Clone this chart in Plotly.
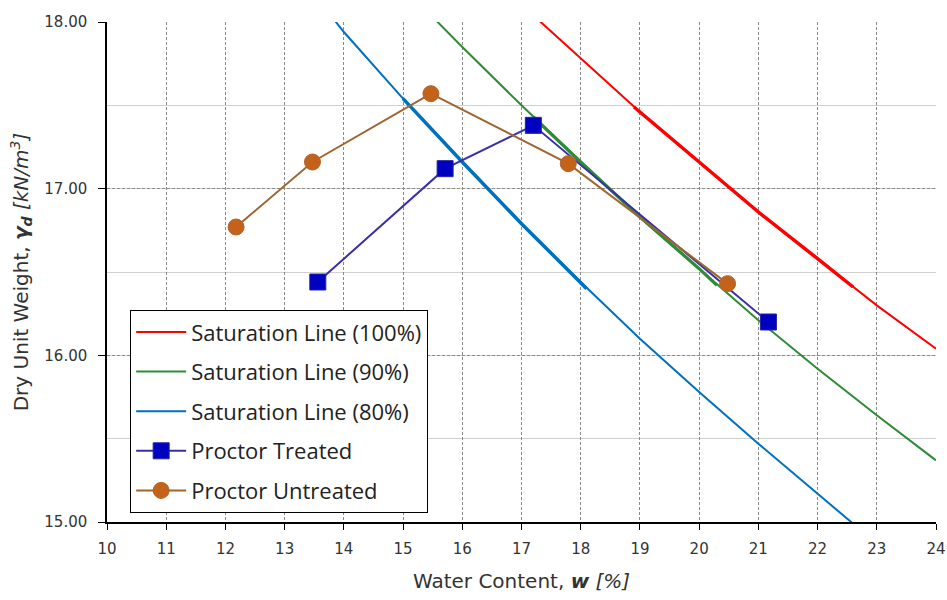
import plotly.graph_objects as go

# Saturation lines
sat100_w = [17.2, 18, 19, 20, 21, 22, 23, 24]
sat100_g = [18.04, 17.78, 17.46, 17.16, 16.86, 16.58, 16.30, 16.04]
sat90_w = [15.5, 16, 17, 18, 19, 20, 21, 22, 23, 24]
sat90_g = [18.03, 17.85, 17.50, 17.16, 16.83, 16.52, 16.21, 15.92, 15.64, 15.37]
sat80_w = [13.8, 14, 15, 16, 17, 18, 19, 20, 21, 22, 22.6]
sat80_g = [18.03, 17.94, 17.54, 17.16, 16.79, 16.44, 16.10, 15.78, 15.47, 15.17, 14.99]

# overlapping (thicker) portions of the saturation lines
sat100_thick_w = [18.9, 19, 20, 21, 22, 22.6]
sat100_thick_g = [17.49, 17.46, 17.16, 16.86, 16.58, 16.41]
sat90_thick_w = [17.2, 18, 19, 20, 20.3]
sat90_thick_g = [17.43, 17.16, 16.83, 16.52, 16.42]
sat80_thick_w = [15.0, 16, 17, 18, 18.1]
sat80_thick_g = [17.54, 17.16, 16.79, 16.44, 16.40]

# Proctor results
treated_w = [13.56, 15.71, 17.20, 21.17]
treated_g = [16.44, 17.12, 17.38, 16.20]
untreated_w = [12.18, 13.47, 15.47, 17.79, 20.48]
untreated_g = [16.77, 17.16, 17.57, 17.15, 16.43]

x_ticks = list(range(10, 25))
y_ticks = [15, 16, 17, 18]

RED = "#FF0000"
GREEN = "#2E8B36"
BLUE = "#0070C0"
GRID = "#8a8a8a"

fig = go.Figure()

fig.add_trace(go.Scatter(x=sat100_w, y=sat100_g, mode="lines", name="Saturation Line (100%)",
                         line=dict(color=RED, width=2), legendgroup="a"))
fig.add_trace(go.Scatter(x=sat100_thick_w, y=sat100_thick_g, mode="lines", showlegend=False,
                         line=dict(color=RED, width=3.5), legendgroup="a"))
fig.add_trace(go.Scatter(x=sat90_w, y=sat90_g, mode="lines", name="Saturation Line (90%)",
                         line=dict(color=GREEN, width=2), legendgroup="b"))
fig.add_trace(go.Scatter(x=sat90_thick_w, y=sat90_thick_g, mode="lines", showlegend=False,
                         line=dict(color=GREEN, width=3.2), legendgroup="b"))
fig.add_trace(go.Scatter(x=sat80_w, y=sat80_g, mode="lines", name="Saturation Line (80%)",
                         line=dict(color=BLUE, width=2), legendgroup="c"))
fig.add_trace(go.Scatter(x=sat80_thick_w, y=sat80_thick_g, mode="lines", showlegend=False,
                         line=dict(color=BLUE, width=3.5), legendgroup="c"))
fig.add_trace(go.Scatter(x=treated_w, y=treated_g, mode="lines+markers", name="Proctor Treated",
                         line=dict(color="#3830A8", width=2),
                         marker=dict(symbol="square", size=16, color="#0000C0",
                                     line=dict(color="#2424A0", width=1)),
                         legendgroup="d"))
fig.add_trace(go.Scatter(x=untreated_w, y=untreated_g, mode="lines+markers", name="Proctor Untreated",
                         line=dict(color="#A0652E", width=2),
                         marker=dict(symbol="circle", size=16, color="#C4621C",
                                     line=dict(color="#B0652A", width=1)),
                         legendgroup="e"))

fig.update_layout(
    width=947, height=600,
    margin=dict(l=107, r=11, t=22, b=78),
    paper_bgcolor="white", plot_bgcolor="white",
    showlegend=True,
    legend=dict(x=0.0277, y=0.424, xanchor="left", yanchor="top",
                bgcolor="white", bordercolor="black", borderwidth=1.2,
                font=dict(family="Open Sans", size=22, color="#222"),
                tracegroupgap=8, itemwidth=50, traceorder="grouped"),
    xaxis=dict(
        range=[10, 24], tickmode="array", tickvals=x_ticks,
        ticktext=[str(v) for v in x_ticks], automargin=False,
        showgrid=True, gridcolor=GRID, griddash="3px,2px", gridwidth=1,
        showline=True, linecolor="black", linewidth=1.5,
        ticks="outside", ticklen=6, tickcolor="black", tickwidth=1.2,
        ticklabelstandoff=6,
        tickfont=dict(family="DejaVu Sans", size=15, color="#333"),
        zeroline=False,
        title=dict(text="Water Content, <b><i>w</i></b> <i>[%]</i>",
                   font=dict(family="DejaVu Sans", size=20, color="#333"), standoff=17),
    ),
    yaxis=dict(
        range=[15, 18], tickmode="array", tickvals=y_ticks,
        ticktext=[f"{v:.2f}" for v in y_ticks], automargin=False,
        showgrid=True, gridcolor=GRID, griddash="3px,2px", gridwidth=1,
        minor=dict(dtick=0.5, showgrid=True, gridcolor="#d0d0d0", griddash="solid", gridwidth=1),
        showline=True, linecolor="black", linewidth=1.5,
        ticks="outside", ticklen=7, tickcolor="black", tickwidth=1.2,
        ticklabelstandoff=8,
        tickfont=dict(family="DejaVu Sans", size=15, color="#333"),
        zeroline=False,
        title=dict(text="Dry Unit Weight, <b><i>γ<sub>d</sub></i></b> <i>[kN/m<sup>3</sup>]</i>",
                   font=dict(family="DejaVu Sans", size=20, color="#333"), standoff=10),
    ),
)

fig.write_html("out.html")
